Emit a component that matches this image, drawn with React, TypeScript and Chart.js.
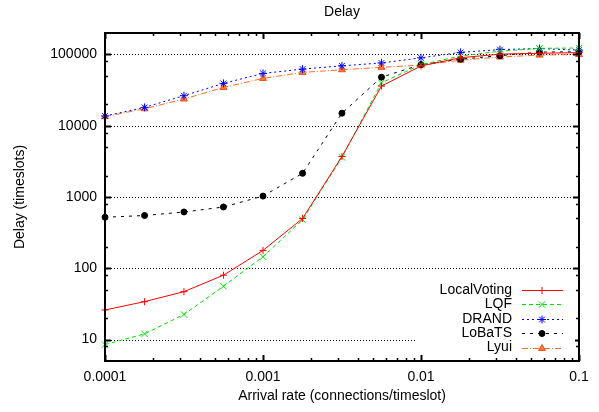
import React, { useEffect, useRef } from 'react';
import { Chart, registerables } from 'chart.js';
import { drawPoint } from 'chart.js/helpers';

Chart.register(...registerables);

// ---- data ----
const arrivalRates = [0.0001, 0.000178, 0.000316, 0.000562, 0.001, 0.00178, 0.00316, 0.00562, 0.01, 0.0178, 0.0316, 0.0562, 0.1];
const localVoting = [26, 34, 47, 80, 178, 500, 3700, 36000, 69000, 90000, 101000, 104000, 106000];
const lqf = [8.5, 12, 22.5, 56, 145, 480, 3600, 40000, 72000, 95000, 111000, 122000, 123000];
const drand = [13700, 18100, 26400, 39300, 54200, 62300, 69300, 76000, 89600, 107000, 117000, 121000, 115000];
const loBaTS = [520, 550, 616, 724, 1030, 2150, 15000, 48000, 72000, 86000, 96000, 108000, 109000];
const lyui = [13400, 17300, 23700, 34500, 46100, 56000, 61000, 66000, 71000, 83000, 92000, 98000, 100000];

const seriesNames = ['LocalVoting', 'LQF', 'DRAND', 'LoBaTS', 'Lyui'];

const xTickValues = [0.0001, 0.001, 0.01, 0.1];
const xTickLabels = ['0.0001', '0.001', '0.01', '0.1'];
const yTickValues = [10, 100, 1000, 10000, 100000];
const yTickLabels = ['10', '100', '1000', '10000', '100000'];
const xDecades = [0.0001, 0.001, 0.01];
const xMinorMultipliers = [2, 3, 4, 5, 6, 7, 8, 9];
const yDecades = [1, 10, 100, 1000, 10000, 100000];
const yMinorMultipliers = [2, 5, 8];

const FONT = '"Liberation Sans", Arial, Helvetica, sans-serif';
const FS = 14;

const decorPlugin = {
  id: 'gnuplotDecor',
  beforeDatasetsDraw(chart: any) {
    const { ctx, chartArea: a, scales } = chart;
    const y = scales.y;
    ctx.save();
    ctx.strokeStyle = '#000';
    ctx.lineWidth = 1;
    ctx.setLineDash([1, 2]);
    yTickValues.forEach((v) => {
      const py = Math.round(y.getPixelForValue(v)) + 0.5;
      ctx.beginPath();
      ctx.moveTo(a.left, py);
      ctx.lineTo(a.right, py);
      ctx.stroke();
    });
    ctx.restore();
  },
  afterDatasetsDraw(chart: any) {
    const { ctx, chartArea: a, scales } = chart;
    const x = scales.x;
    const y = scales.y;
    ctx.save();
    ctx.setLineDash([]);
    ctx.strokeStyle = '#000';
    ctx.lineWidth = 1;
    const major = 6;
    const minor = 3;
    const drawX = (v: number, len: number) => {
      const px = Math.round(x.getPixelForValue(v)) + 0.5;
      ctx.beginPath();
      ctx.moveTo(px, a.bottom);
      ctx.lineTo(px, a.bottom - len);
      ctx.moveTo(px, a.top);
      ctx.lineTo(px, a.top + len);
      ctx.stroke();
    };
    const drawY = (v: number, len: number) => {
      const py = Math.round(y.getPixelForValue(v)) + 0.5;
      ctx.beginPath();
      ctx.moveTo(a.left, py);
      ctx.lineTo(a.left + len, py);
      ctx.moveTo(a.right, py);
      ctx.lineTo(a.right - len, py);
      ctx.stroke();
    };
    ctx.lineWidth = 2;
    xTickValues.forEach((v) => drawX(v, major));
    yTickValues.forEach((v) => drawY(v, major));
    ctx.lineWidth = 1.5;
    xDecades.forEach((d) => xMinorMultipliers.forEach((m) => drawX(d * m, minor)));
    yDecades.forEach((d) =>
      yMinorMultipliers.forEach((m) => {
        const v = d * m;
        if (v > y.min && v < y.max) drawY(v, minor);
      })
    );
    // border
    ctx.lineWidth = 2;
    ctx.strokeRect(a.left, a.top, a.right - a.left, a.bottom - a.top);

    // legend
    const lx = a.right - 164;
    const ly = a.bottom - 79;
    ctx.fillStyle = '#fff';
    ctx.fillRect(lx, ly, 160, 73);
    ctx.font = `${FS}px ${FONT}`;
    ctx.textAlign = 'right';
    ctx.textBaseline = 'middle';
    chart.data.datasets.forEach((ds: any, i: number) => {
      const rowY = ly + 8 + i * 14.4;
      ctx.fillStyle = '#000';
      ctx.fillText(ds.label, a.right - 67, rowY);
      ctx.save();
      ctx.strokeStyle = ds.borderColor;
      ctx.lineWidth = 1;
      ctx.setLineDash(ds.borderDash || []);
      ctx.beginPath();
      ctx.moveTo(a.right - 57, Math.round(rowY) + 0.5);
      ctx.lineTo(a.right - 16, Math.round(rowY) + 0.5);
      ctx.stroke();
      ctx.setLineDash([]);
      ctx.strokeStyle = ds.pointBorderColor;
      ctx.fillStyle = ds.pointBackgroundColor;
      ctx.lineWidth = 1;
      drawPoint(ctx, { pointStyle: ds.pointStyle, radius: ds.pointRadius, rotation: 0, borderWidth: 1 }, a.right - 37, Math.round(rowY) + 0.5);
      ctx.restore();
    });

    // title
    ctx.fillStyle = '#000';
    ctx.textAlign = 'center';
    ctx.textBaseline = 'middle';
    ctx.font = `${FS}px ${FONT}`;
    ctx.fillText('Delay', (a.left + a.right) / 2, 12);
    ctx.restore();
  },
};

function mkData(values: number[]) {
  return arrivalRates.map((r, i) => ({ x: r, y: values[i] }));
}

export default function App() {
  const ref = useRef<HTMLCanvasElement | null>(null);
  useEffect(() => {
    document.body.style.margin = '0';
    document.body.style.overflow = 'hidden';
    const canvas = ref.current;
    if (!canvas) return;
    const common = { tension: 0, borderWidth: 1, pointBorderWidth: 1, fill: false, clip: false as any };
    const chart = new Chart(canvas, {
      type: 'line',
      data: {
        datasets: [
          { ...common, label: seriesNames[0], data: mkData(localVoting), borderColor: '#ff0000', pointBorderColor: '#ff0000', pointBackgroundColor: '#ff0000', pointStyle: 'cross', pointRadius: 3.5, borderDash: [] },
          { ...common, label: seriesNames[1], data: mkData(lqf), borderColor: '#00e000', pointBorderColor: '#00e000', pointBackgroundColor: '#00e000', pointStyle: 'crossRot', pointRadius: 4.5, borderDash: [4, 3] },
          { ...common, label: seriesNames[2], data: mkData(drand), borderColor: '#0000ff', pointBorderColor: '#0000ff', pointBackgroundColor: '#0000ff', pointStyle: 'star', pointRadius: 4, borderDash: [2, 3] },
          { ...common, label: seriesNames[3], data: mkData(loBaTS), borderColor: '#000000', pointBorderColor: '#000000', pointBackgroundColor: '#000000', pointStyle: 'circle', pointRadius: 3, borderDash: [3, 5] },
          { ...common, label: seriesNames[4], data: mkData(lyui), borderColor: '#ff6a2a', pointBorderColor: '#e8501a', pointBackgroundColor: '#ff7a3a', pointStyle: 'triangle', pointRadius: 4, borderDash: [6, 2, 1, 2] },
        ] as any,
      },
      options: {
        animation: false,
        responsive: false,
        devicePixelRatio: 1,
        layout: { padding: { top: 33, right: 20, left: 0, bottom: 0 } },
        plugins: { legend: { display: false }, title: { display: false }, tooltip: { enabled: false } },
        scales: {
          x: {
            type: 'logarithmic',
            position: 'bottom',
            min: 0.0001,
            max: 0.1,
            afterBuildTicks: (s: any) => {
              s.ticks = xTickValues.map((v) => ({ value: v }));
            },
            afterFit: (s: any) => {
              s.height = 51;
            },
            ticks: {
              callback: (_v: any, i: number) => xTickLabels[i],
              font: { size: FS, family: FONT },
              color: '#000',
              padding: 8,
              maxRotation: 0,
              autoSkip: false,
            },
            grid: { display: false, drawTicks: false },
            border: { display: false },
            title: { display: true, text: 'Arrival rate (connections/timeslot)', font: { size: FS, family: FONT }, color: '#000', padding: { top: 0, bottom: 7 } },
          },
          y: {
            type: 'logarithmic',
            position: 'left',
            min: 5,
            max: 200000,
            afterBuildTicks: (s: any) => {
              s.ticks = yTickValues.map((v) => ({ value: v }));
            },
            afterFit: (s: any) => {
              s.width = 105;
            },
            ticks: {
              callback: (_v: any, i: number) => yTickLabels[i],
              font: { size: FS, family: FONT },
              color: '#000',
              padding: 8,
              autoSkip: false,
            },
            grid: { display: false, drawTicks: false },
            border: { display: false },
            title: { display: true, text: 'Delay (timeslots)', font: { size: FS, family: FONT }, color: '#000', padding: { top: 12, bottom: 0 } },
          },
        },
      } as any,
      plugins: [decorPlugin],
    });
    return () => chart.destroy();
  }, []);
  return <canvas ref={ref} width={599} height={412} style={{ display: 'block', width: 599, height: 412 }} />;
}
